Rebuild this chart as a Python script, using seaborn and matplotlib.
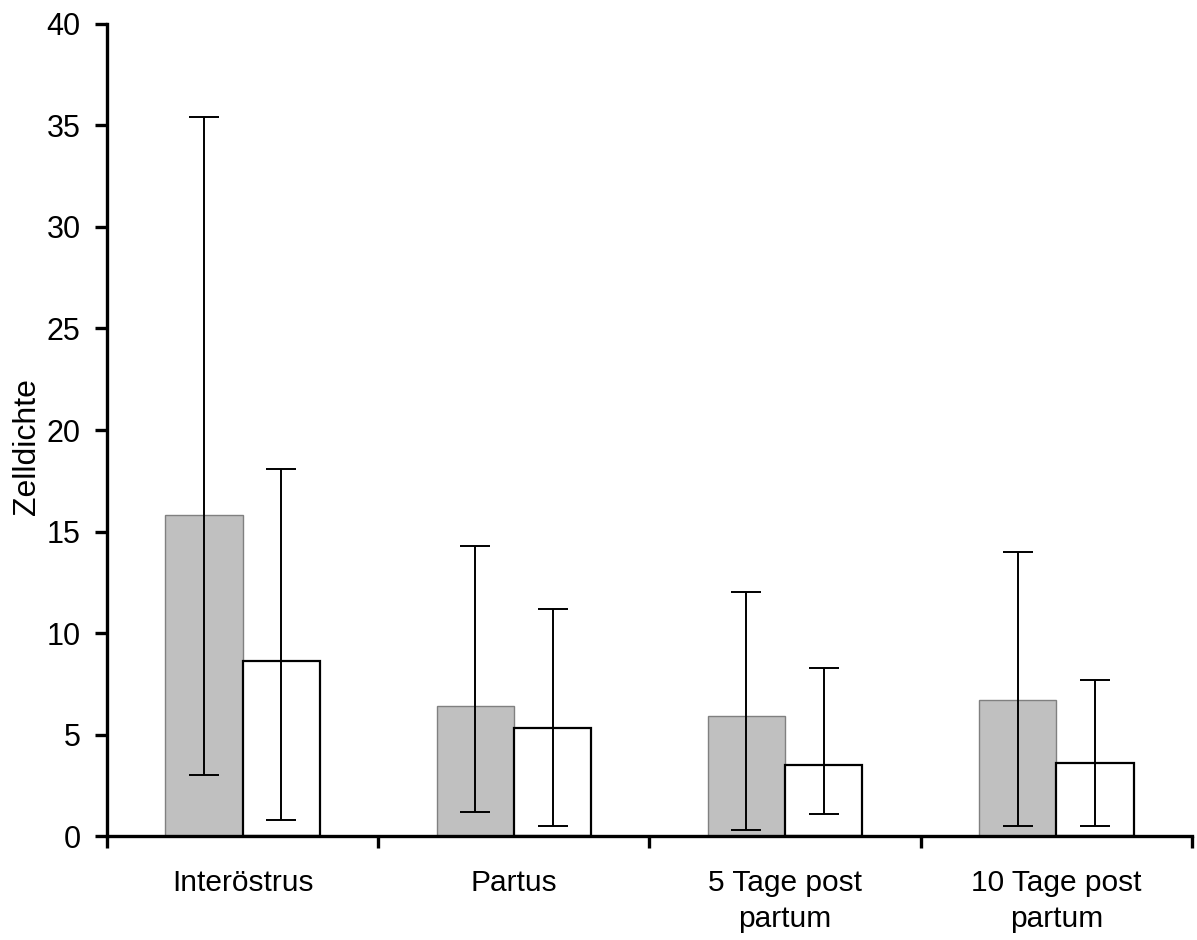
import numpy as np
import pandas as pd
import matplotlib
matplotlib.use("Agg")
import matplotlib.pyplot as plt
import seaborn as sns
from matplotlib.ticker import FixedLocator

# Data: mean cell density per phase, two groups, with lower/upper error limits
categories = ["Interöstrus", "Partus", "5 Tage post\npartum", "10 Tage post\npartum"]
groups = ["A", "B"]
mean_a = [15.8, 6.4, 5.9, 6.7]
low_a = [3.0, 1.2, 0.3, 0.5]
high_a = [35.4, 14.3, 12.0, 14.0]
mean_b = [8.6, 5.3, 3.5, 3.6]
low_b = [0.8, 0.5, 1.1, 0.5]
high_b = [18.1, 11.2, 8.3, 7.7]
y_ticks = [0, 5, 10, 15, 20, 25, 30, 35, 40]

sns.set_theme(style="white")
plt.rcParams["font.family"] = ["Liberation Sans", "DejaVu Sans"]
plt.rcParams["text.color"] = "black"
plt.rcParams["axes.labelcolor"] = "black"
plt.rcParams["xtick.color"] = "black"
plt.rcParams["ytick.color"] = "black"

df = pd.DataFrame({
    "phase": categories * 2,
    "group": [groups[0]] * 4 + [groups[1]] * 4,
    "value": mean_a + mean_b,
})

fig = plt.figure(figsize=(11.97, 9.4), dpi=100)
ax = fig.add_axes([0.0894, 0.1106, 0.9064, 0.8639])

sns.barplot(data=df, x="phase", y="value", hue="group", order=categories,
            hue_order=groups, palette=["#C0C0C0", "#FFFFFF"], width=0.57,
            gap=0, errorbar=None, legend=False, ax=ax, zorder=2)

edge_styles = [("#808080", 1.0), ("#000000", 1.6)]
for cont, (ec, lw) in zip(ax.containers, edge_styles):
    for patch in cont:
        patch.set_edgecolor(ec)
        patch.set_linewidth(lw)

# Asymmetric error bars centred on each bar
for cont, means, lows, highs in zip(ax.containers, [mean_a, mean_b],
                                    [low_a, low_b], [high_a, high_b]):
    xs = [p.get_x() + p.get_width() / 2 for p in cont]
    m = np.array(means)
    yerr = np.vstack([m - np.array(lows), np.array(highs) - m])
    ax.errorbar(xs, m, yerr=yerr, fmt="none", ecolor="black", elinewidth=1.4,
                capsize=11, capthick=1.4, zorder=3)

ax.set_xlim(-0.5, 3.5)
ax.set_ylim(0, 40)
ax.set_yticks(y_ticks)
ax.set_xlabel("")
ax.set_ylabel("Zelldichte", fontsize=23)
ax.yaxis.set_label_coords(-0.06, 0.48)

for side in ["top", "right"]:
    ax.spines[side].set_visible(False)
for side in ["left", "bottom"]:
    ax.spines[side].set_linewidth(2.4)
    ax.spines[side].set_color("black")

ax.xaxis.set_minor_locator(FixedLocator([-0.5, 0.5, 1.5, 2.5, 3.5]))
ax.tick_params(axis="x", which="major", length=0, pad=24, labelsize=21.5)
ax.tick_params(axis="x", which="minor", direction="out", length=8.5,
               width=2.4, color="black", bottom=True)
ax.tick_params(axis="y", which="major", direction="out", length=8.5,
               width=2.4, color="black", left=True, pad=10.5, labelsize=22)
for lbl in ax.get_xticklabels():
    lbl.set_linespacing(1.35)
ax.grid(False)

fig.savefig("out.png", dpi=100)
